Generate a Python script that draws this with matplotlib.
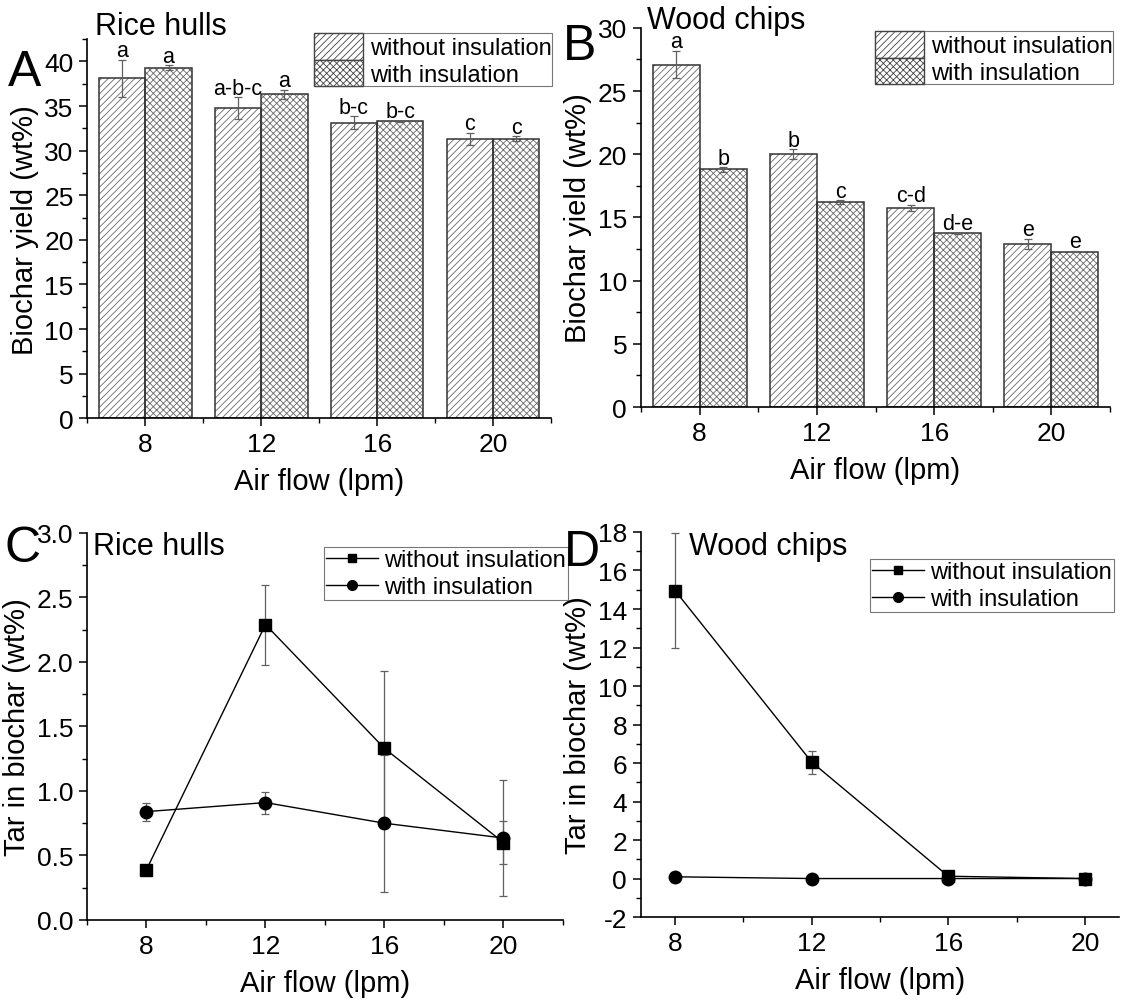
import numpy as np
import matplotlib
matplotlib.use('Agg')
import matplotlib.pyplot as plt
from matplotlib.patches import Patch
from matplotlib.lines import Line2D
from matplotlib.ticker import MultipleLocator, FormatStrFormatter

plt.rcParams['font.family'] = ['Liberation Sans', 'DejaVu Sans']
plt.rcParams['hatch.linewidth'] = 0.6

# data
air_flow = [8, 12, 16, 20]

rice_yield_wo = [38.1, 34.8, 33.15, 31.3]
rice_yield_wo_err = [2.1, 1.2, 0.7, 0.7]
rice_yield_w = [39.3, 36.3, 33.3, 31.35]
rice_yield_w_err = [0.25, 0.5, 0.05, 0.27]
rice_letters_wo = ['a', 'a-b-c', 'b-c', 'c']
rice_letters_w = ['a', 'a', 'b-c', 'c']

wood_yield_wo = [27.1, 20.0, 15.75, 12.9]
wood_yield_wo_err = [1.1, 0.4, 0.27, 0.42]
wood_yield_w = [18.8, 16.2, 13.75, 12.3]
wood_yield_w_err = [0.17, 0.15, 0.05, 0.05]
wood_letters_wo = ['a', 'b', 'c-d', 'e']
wood_letters_w = ['b', 'c', 'd-e', 'e']

rice_tar_wo = [0.39, 2.29, 1.33, 0.60]
rice_tar_wo_err = [0.0, 0.31, 0.6, 0.17]
rice_tar_w = [0.84, 0.91, 0.75, 0.635]
rice_tar_w_err = [0.07, 0.085, 0.53, 0.447]

wood_tar_wo = [14.95, 6.05, 0.12, 0.0]
wood_tar_wo_err = [3.0, 0.6, 0.1, 0.05]
wood_tar_w = [0.09, 0.0, 0.0, 0.0]
wood_tar_w_err = [0.0, 0.0, 0.0, 0.0]

labels = ['without insulation', 'with insulation']

TICK = 19
LAB = 21
EDGE = '#333333'
HATCH = '#6a6a6a'
ERR = '#606060'
H_WO = '/////'
H_W = 'xxxxx'

fig = plt.figure(figsize=(11.21, 10.03), dpi=100)


def style_axis(ax):
    ax.spines['top'].set_visible(False)
    ax.spines['right'].set_visible(False)
    ax.spines['left'].set_linewidth(1.2)
    ax.spines['bottom'].set_linewidth(1.2)
    ax.tick_params(which='major', direction='out', length=6, width=1.1, labelsize=TICK, pad=4)
    ax.tick_params(which='minor', direction='out', length=3.5, width=1.0)
    ax.set_xticks(air_flow)
    ax.xaxis.set_minor_locator(MultipleLocator(2))
    ax.set_xlabel('Air flow (lpm)', fontsize=LAB, labelpad=8)


def bar_panel(rect, wo, wo_err, w, w_err, let_wo, let_w, ylim, ystep, title, tpos, letter, lpos, legpos):
    ax = fig.add_axes(rect)
    x = np.array(air_flow)
    bw = 1.6
    # hatch layer, then the darker outline on top
    ax.bar(x - bw / 2, wo, bw, facecolor='white', edgecolor=HATCH, hatch=H_WO, linewidth=0)
    ax.bar(x + bw / 2, w, bw, facecolor='white', edgecolor=HATCH, hatch=H_W, linewidth=0)
    ax.bar(x - bw / 2, wo, bw, fill=False, edgecolor=EDGE, linewidth=1.1)
    ax.bar(x + bw / 2, w, bw, fill=False, edgecolor=EDGE, linewidth=1.1)
    ax.errorbar(x - bw / 2, wo, yerr=wo_err, fmt='none', ecolor=ERR, elinewidth=0.9, capsize=3, capthick=0.9)
    ax.errorbar(x + bw / 2, w, yerr=w_err, fmt='none', ecolor=ERR, elinewidth=0.9, capsize=3, capthick=0.9)
    for i in range(len(x)):
        ax.annotate(let_wo[i], (x[i] - bw / 2, wo[i] + wo_err[i]), xytext=(0, 2.5), textcoords='offset points',
                    ha='center', va='baseline', fontsize=15.5)
        ax.annotate(let_w[i], (x[i] + bw / 2, w[i] + w_err[i]), xytext=(0, 2.5), textcoords='offset points',
                    ha='center', va='baseline', fontsize=15.5)
    ax.set_xlim(6, 22)
    ax.set_ylim(*ylim)
    ax.yaxis.set_major_locator(MultipleLocator(ystep))
    ax.yaxis.set_minor_locator(MultipleLocator(ystep / 2))
    style_axis(ax)
    ax.set_ylabel('Biochar yield (wt%)', fontsize=LAB, labelpad=4)
    fig.text(tpos[0], tpos[1], title, fontsize=22, ha='left', va='baseline')
    fig.text(lpos[0], lpos[1], letter, fontsize=36, ha='left', va='baseline')
    handles = [Patch(facecolor='white', edgecolor='#444444', hatch=H_WO, linewidth=1.0),
               Patch(facecolor='white', edgecolor='#444444', hatch=H_W, linewidth=1.0)]
    leg = ax.legend(handles, labels, loc='upper right', bbox_to_anchor=legpos, bbox_transform=fig.transFigure,
                    fontsize=17, frameon=True, fancybox=False, borderpad=0.0, labelspacing=0.0,
                    handlelength=2.1, handleheight=1.35, handletextpad=0.3, borderaxespad=0)
    leg.get_frame().set_edgecolor('#555555')
    leg.get_frame().set_linewidth(0.8)
    return ax


def line_panel(rect, wo, wo_err, w, w_err, xlim, ylim, ystep, fmt, title, tpos, letter, lpos, legpos):
    ax = fig.add_axes(rect)
    ax.errorbar(air_flow, wo, yerr=wo_err, color='black', ecolor=ERR, lw=1.0, elinewidth=0.9,
                capsize=3, capthick=0.9, marker='s', ms=8)
    ax.errorbar(air_flow, w, yerr=w_err, color='black', ecolor=ERR, lw=1.0, elinewidth=0.9,
                capsize=3, capthick=0.9, marker='o', ms=9)
    ax.set_xlim(*xlim)
    ax.set_ylim(*ylim)
    ax.yaxis.set_major_locator(MultipleLocator(ystep))
    ax.yaxis.set_minor_locator(MultipleLocator(ystep / 2))
    ax.yaxis.set_major_formatter(FormatStrFormatter(fmt))
    style_axis(ax)
    ax.set_ylabel('Tar in biochar (wt%)', fontsize=LAB, labelpad=4)
    fig.text(tpos[0], tpos[1], title, fontsize=22, ha='left', va='baseline')
    fig.text(lpos[0], lpos[1], letter, fontsize=36, ha='left', va='baseline')
    handles = [Line2D([], [], color='black', lw=1.0, marker='s', ms=6),
               Line2D([], [], color='black', lw=1.0, marker='o', ms=7)]
    leg = ax.legend(handles, labels, loc='upper right', bbox_to_anchor=legpos, bbox_transform=fig.transFigure,
                    fontsize=17, frameon=True, fancybox=False, borderpad=0.1, labelspacing=0.2,
                    handlelength=2.2, handletextpad=0.25, borderaxespad=0)
    leg.get_frame().set_edgecolor('#555555')
    leg.get_frame().set_linewidth(0.8)
    return ax


bar_panel([0.078, 0.582, 0.4135, 0.378], rice_yield_wo, rice_yield_wo_err, rice_yield_w, rice_yield_w_err,
          rice_letters_wo, rice_letters_w, (0, 42.5), 5, 'Rice hulls', (0.085, 0.965),
          'A', (0.007, 0.914), (0.4924, 0.966))
bar_panel([0.5718, 0.5932, 0.4184, 0.378], wood_yield_wo, wood_yield_wo_err, wood_yield_w, wood_yield_w_err,
          wood_letters_wo, wood_letters_w, (0, 30), 5, 'Wood chips', (0.577, 0.971),
          'B', (0.502, 0.94), (0.9929, 0.968))
line_panel([0.0776, 0.0818, 0.4246, 0.3858], rice_tar_wo, rice_tar_wo_err, rice_tar_w, rice_tar_w_err,
           (6, 22), (0, 3), 0.5, '%.1f', 'Rice hulls', (0.083, 0.447),
           'C', (0.004, 0.44), (0.5067, 0.4536))
line_panel([0.5718, 0.0847, 0.4264, 0.3839], wood_tar_wo, wood_tar_wo_err, wood_tar_w, wood_tar_w_err,
           (7, 21), (-2, 18), 2, '%d', 'Wood chips', (0.615, 0.447),
           'D', (0.503, 0.436), (0.9938, 0.4417))

fig.savefig('out.png', dpi=100, facecolor='white')
